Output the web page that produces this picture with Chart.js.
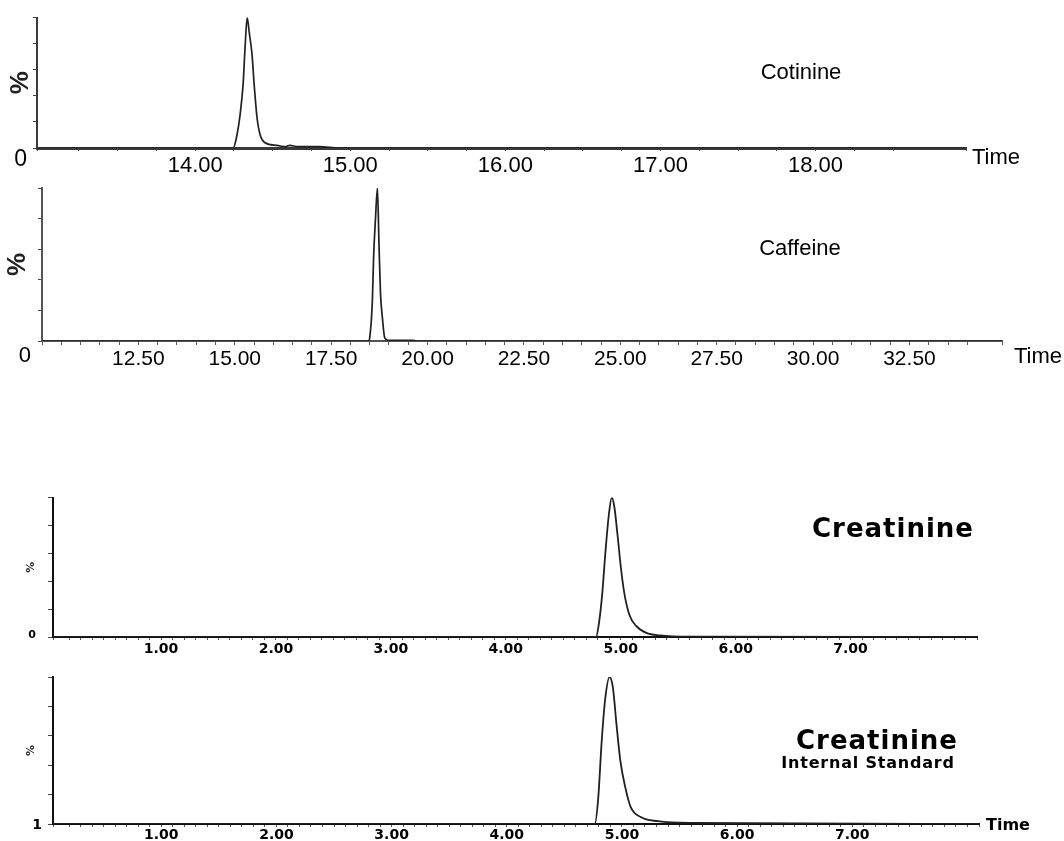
<!DOCTYPE html>
<html>
<head>
<meta charset="utf-8">
<title>Chromatograms</title>
<script src="https://cdn.jsdelivr.net/npm/chart.js@4.4.1/dist/chart.umd.min.js"></script>
<style>
  html, body { margin: 0; padding: 0; background: #fff; }
  #wrap { position: relative; width: 1064px; height: 841px; overflow: hidden; }
  #wrap canvas { position: absolute; left: 0; }
</style>
</head>
<body>
<div id="wrap">
  <canvas id="cotinineChart" width="1064" height="182" style="top:0px"></canvas>
  <canvas id="caffeineChart" width="1064" height="200" style="top:170px"></canvas>
  <canvas id="creatChart" width="1064" height="182" style="top:480px"></canvas>
  <canvas id="creatIsChart" width="1064" height="179" style="top:662px"></canvas>
</div>
<script>
// retention time (min) and relative intensity (%)
const cotinineTime = [12.98, 14.245, 14.271, 14.29, 14.309, 14.322, 14.335, 14.348, 14.367, 14.38, 14.399, 14.419, 14.451, 14.528, 14.58, 14.61, 14.66, 14.72, 14.80, 14.93, 18.97];
const cotininePct  = [0, 0, 11, 26, 49, 78, 100, 89, 71, 49, 23, 10, 4, 2, 1, 2, 1, 1, 1, 0, 0];
const cotinineTicks = [14, 15, 16, 17, 18];

const caffeineTime = [10, 18.47, 18.50, 18.57, 18.60, 18.65, 18.70, 18.74, 18.78, 18.83, 18.89, 18.97, 19.02, 19.62, 19.70, 34.9];
const caffeinePct  = [0, 0, 2, 27, 54, 80, 100, 64, 31, 15, 2, 0.5, 0.5, 0.5, 0, 0];
const caffeineTicks = [12.5, 15, 17.5, 20, 22.5, 25, 27.5, 30, 32.5];

const creatTime = [0.06, 4.785, 4.809, 4.838, 4.868, 4.897, 4.922, 4.945, 4.971, 5.001, 5.03, 5.075, 5.134, 5.223, 5.342, 5.578, 8.1];
const creatPct  = [0, 0, 9, 30, 62, 88, 100, 93, 74, 50, 32, 16, 8, 3, 1.2, 0.2, 0];

const creatIsTime = [0.06, 4.764, 4.794, 4.823, 4.853, 4.892, 4.922, 4.951, 4.986, 5.03, 5.075, 5.163, 5.312, 5.608, 8.1];
const creatIsPct  = [0, 0, 17.6, 55, 84, 100, 92.5, 69, 43, 24.6, 11.7, 4.7, 1.9, 0.7, 0];
const creatTicks = [1, 2, 3, 4, 5, 6, 7];

const SANS = "'Liberation Sans', Arial, sans-serif";
const BOLDFACE = "'DejaVu Sans', Verdana, sans-serif";

// compound names and the "Time" caption, positions in page pixels
function textPlugin(items, canvasTop) {
    return {
        id: 'panelText',
        afterDraw(chart) {
            const c = chart.ctx;
            c.save();
            c.textAlign = 'center';
            c.textBaseline = 'middle';
            c.fillStyle = '#000';
            items.forEach(it => {
                c.font = it.font;
                c.letterSpacing = it.spacing || '0px';
                c.fillText(it.text, it.x, it.y - canvasTop);
            });
            c.restore();
        }
    };
}

function buildChart(canvasId, p) {
    const ctx = document.getElementById(canvasId).getContext('2d');
    return new Chart(ctx, {
        type: 'line',
        data: {
            datasets: [{
                data: p.time.map((t, i) => ({ x: t, y: p.pct[i] })),
                borderColor: '#202020',
                borderWidth: p.lineWidth,
                pointRadius: 0,
                cubicInterpolationMode: 'monotone',
                fill: false
            }]
        },
        options: {
            responsive: false,
            animation: false,
            events: [],
            layout: { padding: p.pad },
            plugins: { legend: { display: false }, tooltip: { enabled: false } },
            scales: {
                x: {
                    type: 'linear',
                    min: p.xMin,
                    max: p.xMax,
                    afterFit: s => { s.height = p.xHeight; },
                    border: { color: p.axisColor, width: p.xBorder },
                    grid: { drawOnChartArea: false, tickLength: p.xTickLen, color: '#555' },
                    ticks: {
                        stepSize: p.xStep,
                        autoSkip: false,
                        maxRotation: 0,
                        minRotation: 0,
                        padding: p.xPad,
                        color: '#000',
                        font: p.xFont,
                        callback: v => p.ticks.some(t => Math.abs(t - v) < 1e-6) ? v.toFixed(2) : ''
                    }
                },
                y: {
                    min: 0,
                    max: 100,
                    afterFit: s => { s.width = p.yWidth; },
                    border: { color: p.axisColor, width: p.yBorder },
                    grid: { drawOnChartArea: false, tickLength: p.yTickLen, color: '#444' },
                    title: { display: true, text: '%', color: '#222', font: p.pctFont, padding: { top: p.pctPad, bottom: 0 } },
                    ticks: {
                        stepSize: 10,
                        padding: p.yPad,
                        labelOffset: p.yOffset,
                        color: '#000',
                        font: p.yFont,
                        callback: v => v === 0 ? p.yLabel : ''
                    }
                }
            }
        },
        plugins: [textPlugin(p.texts, p.top)]
    });
}

buildChart('cotinineChart', {
    top: 0, time: cotinineTime, pct: cotininePct, ticks: cotinineTicks, lineWidth: 1.7,
    pad: { top: 15, right: 98, left: 0, bottom: 0 },
    xMin: 12.98, xMax: 18.97, xStep: 0.25, xHeight: 34, xTickLen: 3, xPad: 2,
    xFont: { family: SANS, size: 22 },
    yWidth: 37, yTickLen: 4, yPad: 6, yOffset: 12, yLabel: '0',
    yFont: { family: SANS, size: 23, lineHeight: 1 },
    pctFont: { family: SANS, size: 26, weight: 'bold' }, pctPad: 5,
    axisColor: '#3a3a3a', xBorder: 3, yBorder: 2,
    texts: [
        { text: 'Cotinine', x: 801, y: 73, font: '22px ' + SANS },
        { text: 'Time', x: 996, y: 158, font: '22px ' + SANS }
    ]
});

buildChart('caffeineChart', {
    top: 170, time: caffeineTime, pct: caffeinePct, ticks: caffeineTicks, lineWidth: 1.7,
    pad: { top: 12, right: 62, left: 0, bottom: 0 },
    xMin: 10, xMax: 34.9, xStep: 0.5, xHeight: 29, xTickLen: 4, xPad: 2,
    xFont: { family: SANS, size: 21 },
    yWidth: 42, yTickLen: 4, yPad: 7, yOffset: 15, yLabel: '0',
    yFont: { family: SANS, size: 22, lineHeight: 1 },
    pctFont: { family: SANS, size: 26, weight: 'bold' }, pctPad: 2,
    axisColor: '#555', xBorder: 2, yBorder: 2,
    texts: [
        { text: 'Caffeine', x: 800, y: 249, font: '22px ' + SANS },
        { text: 'Time', x: 1038, y: 357, font: '22px ' + SANS }
    ]
});

buildChart('creatChart', {
    top: 480, time: creatTime, pct: creatPct, ticks: creatTicks, lineWidth: 1.8,
    pad: { top: 14, right: 87, left: 0, bottom: 0 },
    xMin: 0.06, xMax: 8.1, xStep: 0.1, xHeight: 25, xTickLen: 3, xPad: 1,
    xFont: { family: BOLDFACE, size: 14, weight: 'bold' },
    yWidth: 53, yTickLen: 5, yPad: 12, yOffset: -2, yLabel: '0',
    yFont: { family: BOLDFACE, size: 11, weight: 'bold', lineHeight: 1 },
    pctFont: { family: BOLDFACE, size: 11, weight: 'bold' }, pctPad: 25,
    axisColor: '#111', xBorder: 2, yBorder: 2,
    texts: [
        { text: 'Creatinine', x: 893, y: 530, font: 'bold 26px ' + BOLDFACE, spacing: '1px' }
    ]
});

buildChart('creatIsChart', {
    top: 662, time: creatIsTime, pct: creatIsPct, ticks: creatTicks, lineWidth: 1.8,
    pad: { top: 15, right: 85, left: 0, bottom: 0 },
    xMin: 0.06, xMax: 8.1, xStep: 0.1, xHeight: 17, xTickLen: 3, xPad: 0,
    xFont: { family: BOLDFACE, size: 14, weight: 'bold' },
    yWidth: 53, yTickLen: 5, yPad: 6, yOffset: 1, yLabel: '1',
    yFont: { family: BOLDFACE, size: 14, weight: 'bold', lineHeight: 1 },
    pctFont: { family: BOLDFACE, size: 11, weight: 'bold' }, pctPad: 25,
    axisColor: '#111', xBorder: 2, yBorder: 2,
    texts: [
        { text: 'Creatinine', x: 877, y: 742, font: 'bold 26px ' + BOLDFACE, spacing: '1px' },
        { text: 'Internal Standard', x: 868, y: 764, font: 'bold 16px ' + BOLDFACE, spacing: '0.8px' },
        { text: 'Time', x: 1008, y: 826, font: 'bold 16px ' + BOLDFACE }
    ]
});
</script>
</body>
</html>
